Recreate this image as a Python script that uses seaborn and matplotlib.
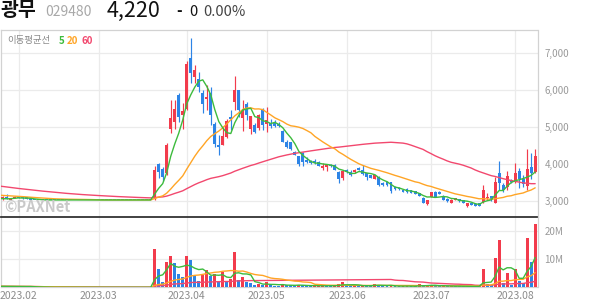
import numpy as np
import pandas as pd
import matplotlib
matplotlib.use("Agg")
import matplotlib.pyplot as plt
import seaborn as sns

# ---------------- data ----------------
start_date = "2023-01-25"
end_date = "2023-08-08"
holidays = ["2023-03-01", "2023-05-01", "2023-05-05", "2023-05-29", "2023-06-06"]

open_ = [3060, 3040, 3100, 3030, 3070, 3100, 3100, 3090, 3050,
         3020, 3020, 3020, 3020, 3020, 3020, 3020, 3020, 3020, 3020,
         3020, 3020, 3020, 3020, 3020, 3020, 3020, 3020, 3020, 3020,
         3020, 3020, 3020, 3020, 3020, 3020, 3020, 3020, 3020, 3020,
         3090, 3990, 3860, 3750, 4950, 5130, 5870, 5320, 5480, 6850,
         6350, 6300, 5920, 5750, 5920, 5070, 4510, 4510, 4710, 5270,
         5670, 5990, 5230, 5610, 4930, 5040, 4960, 5480, 5060, 5090,
         5090, 5070, 4880, 4590, 4580, 4320, 4220, 4280, 4100, 4070,
         4070, 4040, 3880, 3900, 3960, 3960, 3780, 3610, 3830, 3770,
         3770, 3890, 3830, 3740, 3690, 3600, 3650, 3490, 3510, 3500,
         3380, 3350, 3290, 3320, 3290, 3260, 3200, 3080, 2910, 3110,
         3240, 3240, 3140, 3050, 2950, 3020, 3040, 3020, 2860, 2930,
         2910, 2930, 2970, 3060, 3120, 2950, 3740, 3420, 3380, 3560,
         3530, 3810, 3600, 3400, 3900, 3780]
high = [3080, 3130, 3170, 3080, 3140, 3120, 3120, 3110, 3060,
        3020, 3020, 3020, 3020, 3020, 3020, 3020, 3020, 3020, 3020,
        3020, 3020, 3020, 3020, 3020, 3020, 3020, 3020, 3020, 3020,
        3020, 3020, 3020, 3020, 3020, 3020, 3020, 3020, 3020, 3020,
        3925, 4030, 3900, 4560, 5720, 5720, 5900, 5640, 6780, 7410,
        6680, 6480, 5990, 6120, 6080, 5120, 4770, 5020, 5200, 5450,
        6370, 6000, 5720, 5680, 5300, 5100, 5330, 5500, 5530, 5220,
        5180, 5120, 4900, 4640, 4600, 4350, 4220, 4320, 4180, 4090,
        4120, 4060, 4010, 3990, 3990, 3990, 3800, 3830, 3860, 3830,
        3870, 3900, 3960, 3740, 3700, 3700, 3660, 3500, 3520, 3510,
        3390, 3360, 3300, 3340, 3300, 3270, 3210, 3090, 3020, 3240,
        3260, 3250, 3150, 3060, 3040, 3070, 3050, 3030, 2940, 2940,
        2920, 2940, 3420, 3200, 3140, 3650, 4080, 3470, 3810, 3600,
        4010, 3880, 3700, 4410, 4280, 4390]
low = [3010, 3030, 3040, 3020, 3060, 3070, 3050, 3040, 3010,
       3020, 3020, 3020, 3020, 3020, 3020, 3020, 3020, 3020, 3020,
       3020, 3020, 3020, 3020, 3020, 3020, 3020, 3020, 3020, 3020,
       3020, 3020, 3020, 3020, 3020, 3020, 3020, 3020, 3020, 3020,
       3030, 3620, 3540, 3700, 4820, 4940, 5130, 4940, 5450, 6170,
       6170, 5940, 5380, 5450, 5040, 4450, 4230, 4500, 4700, 4910,
       5450, 5260, 4890, 5180, 4810, 4830, 4900, 4920, 4850, 4960,
       5000, 5000, 4590, 4420, 4380, 4230, 3940, 3940, 4010, 4000,
       3980, 3930, 3840, 3800, 3910, 3820, 3470, 3550, 3760, 3670,
       3740, 3830, 3690, 3560, 3610, 3590, 3400, 3410, 3410, 3220,
       3300, 3290, 3230, 3220, 3210, 3170, 3120, 2940, 2880, 3090,
       3090, 3170, 3010, 2970, 2930, 3010, 2970, 2940, 2840, 2880,
       2850, 2850, 2950, 3020, 2990, 2940, 3290, 3240, 3290, 3480,
       3480, 3340, 3380, 3290, 3600, 3740]
close = [3030, 3090, 3050, 3060, 3100, 3080, 3070, 3050, 3020,
         3020, 3020, 3020, 3020, 3020, 3020, 3020, 3020, 3020, 3020,
         3020, 3020, 3020, 3020, 3020, 3020, 3020, 3020, 3020, 3020,
         3020, 3020, 3020, 3020, 3020, 3020, 3020, 3020, 3020, 3020,
         3830, 3785, 3650, 4500, 5230, 5490, 5250, 5430, 6690, 6440,
         6530, 6060, 5610, 5810, 5310, 4530, 4440, 4750, 5160, 5200,
         5990, 5450, 5450, 5310, 5290, 4860, 5310, 5040, 5180, 5030,
         5030, 5020, 4590, 4460, 4400, 4230, 3980, 4050, 4040, 4010,
         4010, 3950, 3950, 3980, 3930, 3830, 3580, 3800, 3770, 3700,
         3840, 3840, 3710, 3650, 3620, 3690, 3420, 3420, 3420, 3260,
         3320, 3310, 3240, 3230, 3220, 3180, 3130, 2950, 3020, 3230,
         3110, 3180, 3020, 2980, 3020, 3060, 2980, 2950, 2930, 2890,
         2860, 2860, 3280, 3100, 3010, 3510, 3470, 3290, 3670, 3510,
         3760, 3600, 3450, 3870, 3740, 4220]
volume_m = [0.3, 0.4, 0.3, 0.2, 0.4, 0.3, 0.2, 0.3, 0.2,
            0, 0, 0, 0, 0, 0, 0, 0, 0, 0,
            0, 0, 0, 0, 0, 0, 0, 0, 0, 0,
            0, 0, 0, 0, 0, 0, 0, 0, 0, 0,
            13.8, 6.5, 2.0, 9.1, 11.3, 8.5, 4.9, 3.5, 11.3, 9.9,
            4.5, 2.4, 4.5, 6.2, 3.9, 4.9, 2.0, 5.5, 1.9, 3.1,
            12.7, 2.7, 3.5, 1.8, 1.4, 0.7, 1.0, 0.8, 1.8, 0.9,
            0.6, 0.5, 1.0, 0.9, 0.7, 0.4, 0.9, 0.8, 0.5, 0.4,
            0.5, 0.6, 0.7, 0.6, 0.4, 0.5, 1.0, 1.9, 0.6, 0.5,
            0.6, 0.5, 0.7, 0.6, 0.4, 1.2, 0.8, 0.5, 0.4, 0.6,
            0.4, 0.3, 0.4, 0.5, 0.4, 0.3, 1.0, 0.6, 0.7, 0.9,
            0.5, 0.3, 0.5, 0.4, 0.5, 0.4, 0.3, 0.3, 0.4, 0.3,
            0.3, 0.4, 6.5, 1.2, 0.9, 10.5, 17.0, 1.5, 5.0, 0.8,
            6.5, 2.3, 1.5, 17.7, 9.1, 22.6]
# closes of the 59 sessions before the first shown day (for the moving averages)
prior_close = [3950, 3900, 3880, 3920, 3850, 3800, 3820, 3760, 3700, 3720,
               3680, 3650, 3700, 3640, 3600, 3580, 3620, 3560, 3520, 3500,
               3480, 3450, 3420, 3400, 3380,
               3400, 3380, 3360, 3350, 3330, 3320, 3300, 3310, 3280, 3270,
               3250, 3260, 3240, 3230, 3220, 3210, 3200, 3190,
               3200, 3220, 3210, 3190, 3200, 3180, 3170, 3190, 3160, 3150,
               3130, 3110, 3090, 3070, 3050, 3040]

price_ticks = [3000, 4000, 5000, 6000, 7000]
volume_ticks = [10, 20]
ma_windows = [5, 20, 60]
title_name = "광무"
title_code = "029480"
title_price = "4,220"
title_change = "0"
title_pct = "0.00%"

# ---------------- styling ----------------
sns.set_theme(style="white")
plt.rcParams['font.family'] = ['Noto Sans CJK KR', 'DejaVu Sans']

RED = '#F23B4C'
BLUE = '#2D84E6'
MA_COLORS = {5: '#3DBB3D', 20: '#FFA526', 60: '#F2486E'}
GRID = '#EBEBEB'

dates = pd.bdate_range(start_date, end_date)
dates = dates[~dates.isin(pd.to_datetime(holidays))]
n = len(dates)
x = np.arange(n)
df = pd.DataFrame({'x': x, 'open': open_, 'high': high, 'low': low,
                   'close': close, 'vol': volume_m})

full_close = pd.Series(prior_close + close)
for w in ma_windows:
    df[f'ma{w}'] = full_close.rolling(w).mean().iloc[len(prior_close):].values
    df[f'vma{w}'] = df['vol'].rolling(w, min_periods=1).mean()

up = df['close'] > df['open']
cand_col = np.where(up, RED, BLUE)
vol_up = df['vol'] > df['vol'].shift(1).fillna(0)
vol_col = np.where(vol_up, RED, BLUE)

month_first = [i for i in range(1, n) if dates[i].month != dates[i - 1].month]
month_labels = [dates[i].strftime('%Y.%m') for i in month_first]

W, H = 594, 304
fig = plt.figure(figsize=(W / 100, H / 100), dpi=100)


def rect(l, t, r, b):
    return [l / W, 1 - b / H, (r - l) / W, (b - t) / H]


axp = fig.add_axes(rect(1, 30, 537.5, 217))
axv = fig.add_axes(rect(1, 217, 537.5, 287.3))

x0, step = -1.5, 4.005
xl = ((1 - x0) / step, (537.5 - x0) / step)

# ---- price panel ----
body_w = 0.74
heights = np.maximum((df['close'] - df['open']).abs(), 24)
bottoms = np.minimum(df['open'], df['close'])
axp.vlines(df['x'], df['low'], df['high'], colors=cand_col, linewidth=0.85, zorder=2)
axp.bar(df['x'], heights, bottom=bottoms, width=body_w, color=cand_col,
        linewidth=0, zorder=3)
for w in [60, 20, 5]:
    sns.lineplot(data=df, x='x', y=f'ma{w}', ax=axp, color=MA_COLORS[w],
                 linewidth=1.0, zorder=4)

axp.set_xlim(*xl)
axp.set_ylim(2559.5, 7613.5)
axp.set_yticks(price_ticks)
axp.set_yticklabels([f"{v:,}" for v in price_ticks])
axp.yaxis.tick_right()
axp.set_xticks(month_first)
axp.set_xticklabels([])
axp.tick_params(axis='y', length=0, pad=5, labelsize=7, labelcolor='#9a9a9a')
axp.tick_params(axis='x', length=0)
axp.grid(True, color=GRID, linewidth=0.9)
axp.set_axisbelow(True)
axp.set_xlabel('')
axp.set_ylabel('')
for s in ['top', 'left', 'right']:
    axp.spines[s].set_color('#d2d2d2')
    axp.spines[s].set_linewidth(0.9)
axp.spines['bottom'].set_visible(False)

# ---- volume panel ----
axv.bar(df['x'], df['vol'], width=body_w, color=vol_col, linewidth=0, zorder=3)
for w in [60, 20, 5]:
    sns.lineplot(data=df, x='x', y=f'vma{w}', ax=axv, color=MA_COLORS[w],
                 linewidth=1.0, zorder=4)
axv.set_xlim(*xl)
axv.set_ylim(0, 25.1)
axv.set_yticks(volume_ticks)
axv.set_yticklabels([f"{v}M" for v in volume_ticks])
axv.yaxis.tick_right()
axv.set_xticks(month_first)
axv.set_xticklabels(month_labels)
axv.tick_params(axis='y', length=0, pad=5, labelsize=7, labelcolor='#9a9a9a')
axv.tick_params(axis='x', length=0, pad=3, labelsize=7.5, labelcolor='#8c8c8c')
axv.grid(True, color=GRID, linewidth=0.9)
axv.set_axisbelow(True)
axv.set_xlabel('')
axv.set_ylabel('')
axv.spines['top'].set_color('#333333')
axv.spines['top'].set_linewidth(1.3)
for s in ['left', 'right', 'bottom']:
    axv.spines[s].set_color('#d2d2d2')
    axv.spines[s].set_linewidth(0.9)

# ---- texts ----
def ft(px, py, s, **kw):
    fig.text(px / W, 1 - py / H, s, va='center', ha='left', **kw)

ft(0, 10, title_name, fontsize=14, fontweight='bold', color='#111111')
ft(45, 12, title_code, fontsize=10, color='#a8a8a8')
ft(107, 10.5, title_price, fontsize=15.5, fontweight='medium', color='#111111')
ft(176, 11.5, '-', fontsize=11, fontweight='bold', color='#111111')
ft(189, 12.5, title_change, fontsize=10.5, color='#111111')
ft(203, 12.5, title_pct, fontsize=10.5, color='#444444')

ft(7, 40.5, '이동평균선', fontsize=6.8, color='#8a8a8a')
ft(59, 40.5, '5', fontsize=7, fontweight='bold', color=MA_COLORS[5])
ft(67, 40.5, '20', fontsize=7, fontweight='bold', color=MA_COLORS[20])
ft(82, 40.5, '60', fontsize=7, fontweight='bold', color=MA_COLORS[60])

ft(4, 207, '©PAXNet', fontsize=10.5, fontweight='bold', color='#c9c9c9')

fig.savefig('out.png', dpi=100)
